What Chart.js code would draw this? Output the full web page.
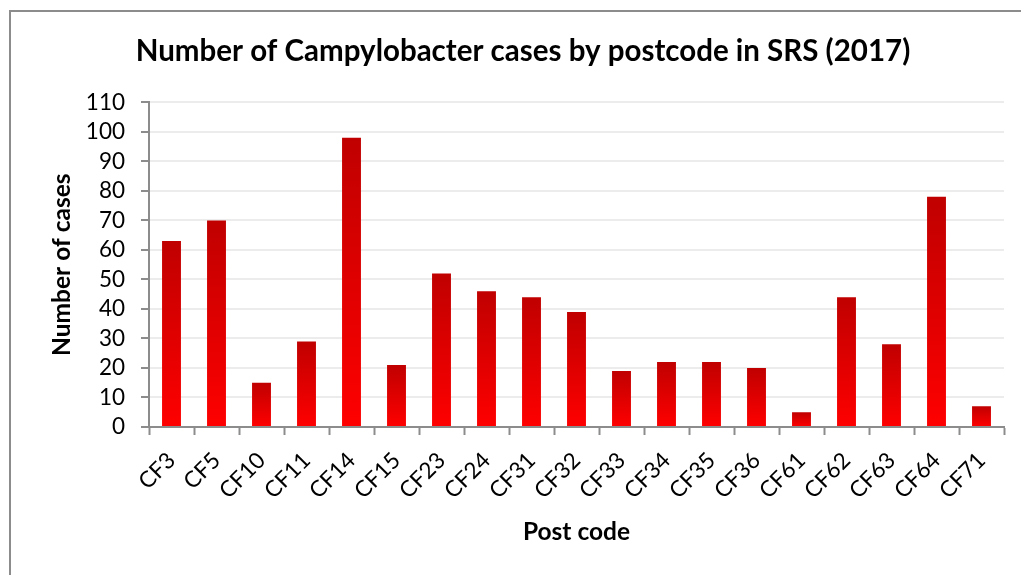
<!DOCTYPE html>
<html lang="en">
<head>
    <meta charset="UTF-8">
    <title>Campylobacter cases by postcode</title>
    <script src="https://cdn.jsdelivr.net/npm/chart.js"></script>
    <style>
        html, body { margin: 0; padding: 0; background: #fff; }
        .frame {
            position: absolute;
            left: 9px; top: 10px;
            width: 1030px; height: 580px;
            border-left: 2px solid #8c8c8c;
            border-top: 2px solid #8c8c8c;
        }
        .chart-box {
            position: absolute;
            left: 0; top: 0;
            width: 1021px; height: 575px;
        }
    </style>
</head>
<body>
<div class="frame"></div>
<div class="chart-box">
    <canvas id="chart"></canvas>
</div>
<script>
    const postcodes = ['CF3', 'CF5', 'CF10', 'CF11', 'CF14', 'CF15', 'CF23', 'CF24', 'CF31', 'CF32',
        'CF33', 'CF34', 'CF35', 'CF36', 'CF61', 'CF62', 'CF63', 'CF64', 'CF71'];
    const cases = [63, 70, 15, 29, 98, 21, 52, 46, 44, 39, 19, 22, 22, 20, 5, 44, 28, 78, 7];
    const yTicks = [0, 10, 20, 30, 40, 50, 60, 70, 80, 90, 100, 110];

    const fontFamily = 'Lato, "Open Sans", sans-serif';

    // each bar shades from dark red at its top to bright red at the axis
    function barGradient(ctx) {
        const chart = ctx.chart;
        const y = chart.scales.y;
        if (!y || ctx.parsed === undefined) return '#e00000';
        const top = y.getPixelForValue(ctx.parsed.y);
        const bottom = y.getPixelForValue(0);
        if (!isFinite(top) || !isFinite(bottom) || top === bottom) return '#e00000';
        const g = chart.ctx.createLinearGradient(0, top, 0, bottom);
        g.addColorStop(0, '#c00000');
        g.addColorStop(1, '#ff0000');
        return g;
    }

    new Chart(document.getElementById('chart'), {
        type: 'bar',
        data: {
            labels: postcodes,
            datasets: [{
                label: 'Number of cases',
                data: cases,
                backgroundColor: barGradient,
                borderWidth: 0,
                categoryPercentage: 1,
                barPercentage: 0.42
            }]
        },
        options: {
            responsive: true,
            maintainAspectRatio: false,
            animation: false,
            layout: { padding: { left: 42, right: 17, top: 0, bottom: 0 } },
            plugins: {
                legend: { display: false },
                tooltip: { enabled: false },
                title: {
                    display: true,
                    text: 'Number of Campylobacter cases by postcode in SRS (2017)',
                    color: '#000',
                    font: { family: fontFamily, size: 29.5, weight: 'bold' },
                    padding: { top: 34, bottom: 33 }
                }
            },
            scales: {
                x: {
                    afterFit: axis => { axis.height = 148; },
                    grid: {
                        offset: true,
                        drawOnChartArea: false,
                        drawTicks: true,
                        tickLength: 8,
                        tickColor: '#8c8c8c',
                        tickWidth: 2
                    },
                    border: { color: '#8c8c8c', width: 2 },
                    ticks: {
                        color: '#000',
                        autoSkip: false,
                        minRotation: 45,
                        maxRotation: 45,
                        padding: 12,
                        font: { family: fontFamily, size: 22.5 }
                    },
                    title: {
                        display: true,
                        text: 'Post code',
                        color: '#000',
                        font: { family: fontFamily, size: 24.5, weight: 'bold' },
                        padding: { top: 0, bottom: 28 }
                    }
                },
                y: {
                    min: 0,
                    max: 110,
                    afterBuildTicks: axis => { axis.ticks = yTicks.map(v => ({ value: v })); },
                    afterFit: axis => { axis.width = 107; },
                    grid: {
                        color: '#ececec',
                        lineWidth: 2,
                        tickLength: 8,
                        tickColor: '#8c8c8c',
                        tickWidth: 2
                    },
                    border: { color: '#8c8c8c', width: 2 },
                    ticks: {
                        color: '#000',
                        autoSkip: false,
                        padding: 16,
                        font: { family: fontFamily, size: 22.5 }
                    },
                    title: {
                        display: true,
                        text: 'Number of cases',
                        color: '#000',
                        font: { family: fontFamily, size: 24.5, weight: 'bold' },
                        padding: { top: 5, bottom: 0 }
                    }
                }
            }
        }
    });
</script>
</body>
</html>
